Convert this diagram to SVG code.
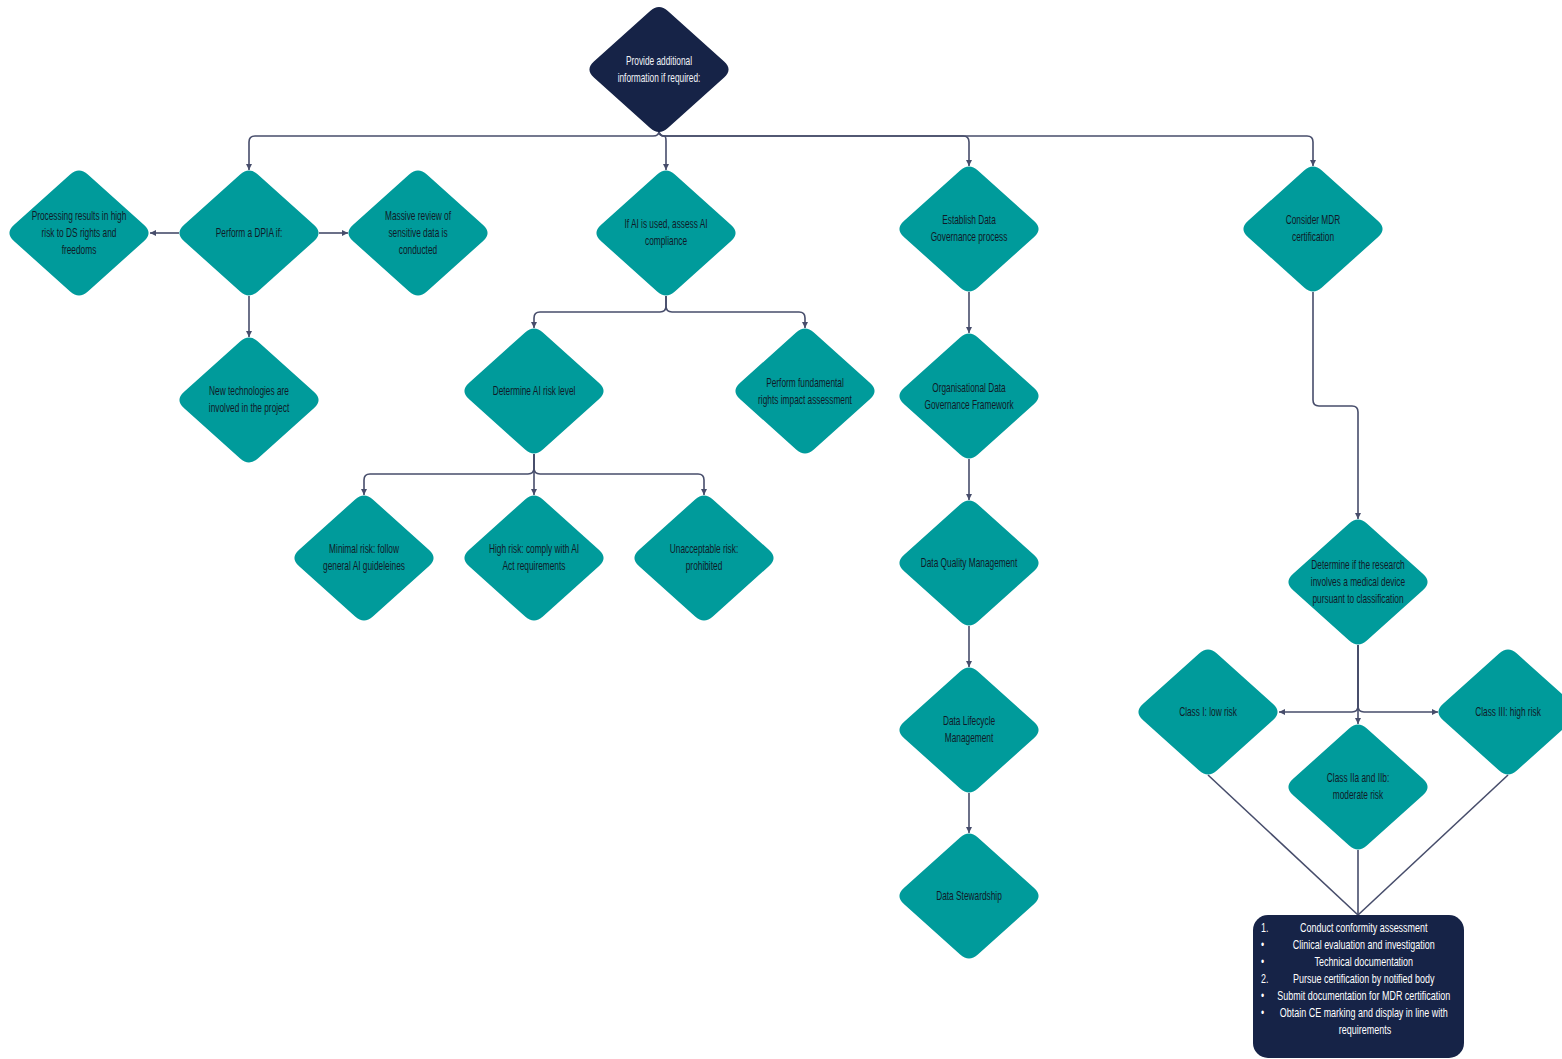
<svg xmlns="http://www.w3.org/2000/svg" xmlns:xlink="http://www.w3.org/1999/xlink" width="1562" height="1059" viewBox="0 0 1562 1059">
  <style>
    .bg { fill: #ffffff; }
    .teal { fill: #009b9b; }
    .navy { fill: #162347; }
    .lbl { font-family: "Liberation Sans", Arial, sans-serif; font-size: 13px; fill: #101a28; text-anchor: middle; }
    .lbl-w { font-family: "Liberation Sans", Arial, sans-serif; font-size: 13px; fill: #f2f4f8; text-anchor: middle; }
    .box-t { font-family: "Liberation Sans", Arial, sans-serif; font-size: 13px; fill: #ffffff; text-anchor: middle; }
    .box-m { font-family: "Liberation Sans", Arial, sans-serif; font-size: 13px; fill: #ffffff; text-anchor: start; }
    .conn { fill: none; stroke: #474d6b; stroke-width: 1.6; }
    .conn-a { fill: none; stroke: #474d6b; stroke-width: 1.6; marker-end: url(#arr); }
  </style>
  <defs>
    <!-- rounded rhombus, centred on the origin -->
    <path id="dia" d="M8.88,-58.52 L65.12,-7.98 Q74,0 65.12,7.98 L8.88,58.52 Q0,66.5 -8.88,58.52 L-65.12,7.98 Q-74,0 -65.12,-7.98 L-8.88,-58.52 Q0,-66.5 8.88,-58.52 Z"/>
    <marker id="arr" markerUnits="userSpaceOnUse" markerWidth="7" markerHeight="7" refX="6" refY="3" orient="auto">
      <path d="M0,0 L6,3 L0,6 Z" fill="#474d6b"/>
    </marker>
  </defs>
  <rect class="bg" x="0" y="0" width="1562" height="1059"/>

  <!-- connectors -->
  <g id="connectors">
    <path class="conn-a" d="M659,131 Q659,136 653,136 L255,136 Q249,136 249,142 L249,170"/>
    <path class="conn-a" d="M659,131 Q659,136 664,136 Q666,136 666,141 L666,170"/>
    <path class="conn-a" d="M659,131 Q659,136 665,136 L963,136 Q969,136 969,142 L969,166"/>
    <path class="conn-a" d="M659,131 Q659,136 665,136 L1307,136 Q1313,136 1313,142 L1313,166"/>

    <path class="conn-a" d="M179,233 L150,233"/>
    <path class="conn-a" d="M319,233 L348,233"/>
    <path class="conn-a" d="M249,296 L249,337"/>

    <path class="conn-a" d="M666,296 L666,306 Q666,312 660,312 L540,312 Q534,312 534,318 L534,328"/>
    <path class="conn-a" d="M666,296 L666,306 Q666,312 672,312 L799,312 Q805,312 805,318 L805,328"/>

    <path class="conn-a" d="M534,454 L534,468 Q534,474 528,474 L370,474 Q364,474 364,480 L364,495"/>
    <path class="conn-a" d="M534,454 L534,495"/>
    <path class="conn-a" d="M534,454 L534,468 Q534,474 540,474 L698,474 Q704,474 704,480 L704,495"/>

    <path class="conn-a" d="M969,292 L969,333"/>
    <path class="conn-a" d="M969,459 L969,500"/>
    <path class="conn-a" d="M969,626 L969,667"/>
    <path class="conn-a" d="M969,793 L969,833"/>

    <path class="conn-a" d="M1313,292 L1313,400 Q1313,406 1319,406 L1352,406 Q1358,406 1358,412 L1358,519"/>
    <path class="conn-a" d="M1358,645 L1358,706 Q1358,712 1352,712 L1279,712"/>
    <path class="conn-a" d="M1358,645 L1358,724"/>
    <path class="conn-a" d="M1358,645 L1358,706 Q1358,712 1364,712 L1438,712"/>

    <path class="conn" d="M1208,775 L1358,915"/>
    <path class="conn" d="M1508,775 L1358,915"/>
    <path class="conn" d="M1358,850 L1358,915"/>
  </g>

  <!-- nodes -->
  <g id="n-provide">
    <use xlink:href="#dia" class="navy" transform="translate(659 69.5)"/>
    <text class="lbl-w" transform="matrix(0.64 0 0 1 659 0)"><tspan x="0" y="65">Provide additional</tspan><tspan x="0" y="82">information if required:</tspan></text>
  </g>

  <g id="n-processing">
    <use xlink:href="#dia" class="teal" transform="translate(79 233)"/>
    <text class="lbl" transform="matrix(0.64 0 0 1 79 0)"><tspan x="0" y="220">Processing results in high</tspan><tspan x="0" y="237">risk to DS rights and</tspan><tspan x="0" y="254">freedoms</tspan></text>
  </g>

  <g id="n-dpia">
    <use xlink:href="#dia" class="teal" transform="translate(249 233)"/>
    <text class="lbl" transform="matrix(0.64 0 0 1 249 0)"><tspan x="0" y="237">Perform a DPIA if:</tspan></text>
  </g>

  <g id="n-massive">
    <use xlink:href="#dia" class="teal" transform="translate(418 233)"/>
    <text class="lbl" transform="matrix(0.64 0 0 1 418 0)"><tspan x="0" y="220">Massive review of</tspan><tspan x="0" y="237">sensitive data is</tspan><tspan x="0" y="254">conducted</tspan></text>
  </g>

  <g id="n-newtech">
    <use xlink:href="#dia" class="teal" transform="translate(249 400)"/>
    <text class="lbl" transform="matrix(0.64 0 0 1 249 0)"><tspan x="0" y="395.5">New technologies are</tspan><tspan x="0" y="412.5">involved in the project</tspan></text>
  </g>

  <g id="n-ai">
    <use xlink:href="#dia" class="teal" transform="translate(666 233)"/>
    <text class="lbl" transform="matrix(0.64 0 0 1 666 0)"><tspan x="0" y="228">If AI is used, assess AI</tspan><tspan x="0" y="245">compliance</tspan></text>
  </g>

  <g id="n-airisk">
    <use xlink:href="#dia" class="teal" transform="translate(534 391)"/>
    <text class="lbl" transform="matrix(0.64 0 0 1 534 0)"><tspan x="0" y="395">Determine AI risk level</tspan></text>
  </g>

  <g id="n-fria">
    <use xlink:href="#dia" class="teal" transform="translate(805 391)"/>
    <text class="lbl" transform="matrix(0.64 0 0 1 805 0)"><tspan x="0" y="387">Perform fundamental</tspan><tspan x="0" y="404">rights impact assessment</tspan></text>
  </g>

  <g id="n-minimal">
    <use xlink:href="#dia" class="teal" transform="translate(364 558)"/>
    <text class="lbl" transform="matrix(0.64 0 0 1 364 0)"><tspan x="0" y="553">Minimal risk: follow</tspan><tspan x="0" y="570">general AI guideleines</tspan></text>
  </g>

  <g id="n-high">
    <use xlink:href="#dia" class="teal" transform="translate(534 558)"/>
    <text class="lbl" transform="matrix(0.64 0 0 1 534 0)"><tspan x="0" y="553">High risk: comply with AI</tspan><tspan x="0" y="570">Act requirements</tspan></text>
  </g>

  <g id="n-unacceptable">
    <use xlink:href="#dia" class="teal" transform="translate(704 558)"/>
    <text class="lbl" transform="matrix(0.64 0 0 1 704 0)"><tspan x="0" y="553">Unacceptable risk:</tspan><tspan x="0" y="570">prohibited</tspan></text>
  </g>

  <g id="n-establish">
    <use xlink:href="#dia" class="teal" transform="translate(969 229)"/>
    <text class="lbl" transform="matrix(0.64 0 0 1 969 0)"><tspan x="0" y="224">Establish Data</tspan><tspan x="0" y="241">Governance process</tspan></text>
  </g>

  <g id="n-orgframework">
    <use xlink:href="#dia" class="teal" transform="translate(969 396)"/>
    <text class="lbl" transform="matrix(0.64 0 0 1 969 0)"><tspan x="0" y="392">Organisational Data</tspan><tspan x="0" y="409">Governance Framework</tspan></text>
  </g>

  <g id="n-quality">
    <use xlink:href="#dia" class="teal" transform="translate(969 563)"/>
    <text class="lbl" transform="matrix(0.64 0 0 1 969 0)"><tspan x="0" y="567">Data Quality Management</tspan></text>
  </g>

  <g id="n-lifecycle">
    <use xlink:href="#dia" class="teal" transform="translate(969 730)"/>
    <text class="lbl" transform="matrix(0.64 0 0 1 969 0)"><tspan x="0" y="725">Data Lifecycle</tspan><tspan x="0" y="742">Management</tspan></text>
  </g>

  <g id="n-stewardship">
    <use xlink:href="#dia" class="teal" transform="translate(969 896)"/>
    <text class="lbl" transform="matrix(0.64 0 0 1 969 0)"><tspan x="0" y="900">Data Stewardship</tspan></text>
  </g>

  <g id="n-mdr">
    <use xlink:href="#dia" class="teal" transform="translate(1313 229)"/>
    <text class="lbl" transform="matrix(0.64 0 0 1 1313 0)"><tspan x="0" y="224">Consider MDR</tspan><tspan x="0" y="241">certification</tspan></text>
  </g>

  <g id="n-device">
    <use xlink:href="#dia" class="teal" transform="translate(1358 582)"/>
    <text class="lbl" transform="matrix(0.64 0 0 1 1358 0)"><tspan x="0" y="569">Determine if the research</tspan><tspan x="0" y="586">involves a medical device</tspan><tspan x="0" y="603">pursuant to classification</tspan></text>
  </g>

  <g id="n-class1">
    <use xlink:href="#dia" class="teal" transform="translate(1208 712)"/>
    <text class="lbl" transform="matrix(0.64 0 0 1 1208 0)"><tspan x="0" y="716">Class I: low risk</tspan></text>
  </g>

  <g id="n-class2">
    <use xlink:href="#dia" class="teal" transform="translate(1358 787)"/>
    <text class="lbl" transform="matrix(0.64 0 0 1 1358 0)"><tspan x="0" y="782">Class IIa and IIb:</tspan><tspan x="0" y="799">moderate risk</tspan></text>
  </g>

  <g id="n-class3">
    <use xlink:href="#dia" class="teal" transform="translate(1508 712)"/>
    <text class="lbl" transform="matrix(0.64 0 0 1 1508 0)"><tspan x="0" y="716">Class III: high risk</tspan></text>
  </g>

  <g id="n-steps">
    <rect class="navy" x="1253" y="915" width="211" height="143" rx="15" ry="15"/>
    <text class="box-t" transform="matrix(0.69 0 0 1 1365 0)">
      <tspan x="0" y="932.5">Conduct conformity assessment</tspan>
      <tspan x="0" y="949.5">Clinical evaluation and investigation</tspan>
      <tspan x="0" y="966.5">Technical documentation</tspan>
      <tspan x="0" y="983.5">Pursue certification by notified body</tspan>
      <tspan x="0" y="1000.5">Submit documentation for MDR certification</tspan>
      <tspan x="0" y="1017.5">Obtain CE marking and display in line with</tspan>
      <tspan x="0" y="1034.5">requirements</tspan>
    </text>
    <text class="box-m" transform="matrix(0.69 0 0 1 1261 0)">
      <tspan x="0" y="932.5">1.</tspan>
      <tspan x="0" y="949.5">•</tspan>
      <tspan x="0" y="966.5">•</tspan>
      <tspan x="0" y="983.5">2.</tspan>
      <tspan x="0" y="1000.5">•</tspan>
      <tspan x="0" y="1017.5">•</tspan>
    </text>
  </g>
</svg>
